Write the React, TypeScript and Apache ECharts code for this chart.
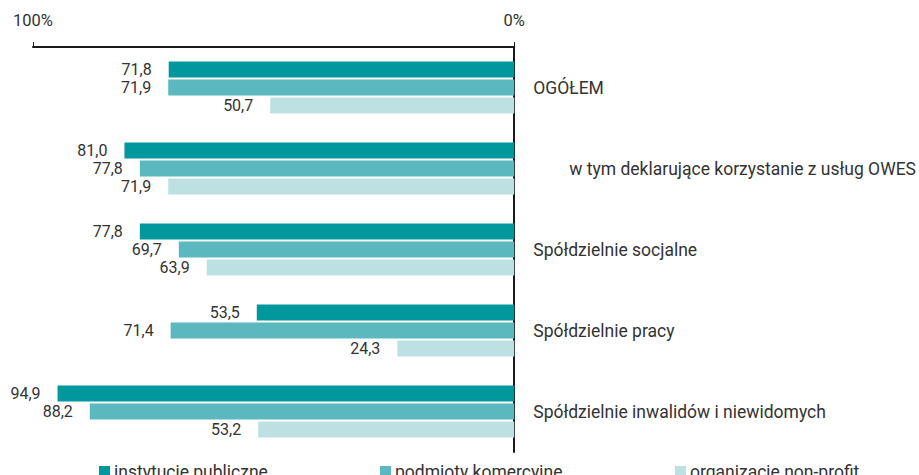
import React, { useEffect, useRef } from "react";
import * as echarts from "echarts";

const categories = [
  "OGÓŁEM",
  "w tym deklarujące korzystanie z usług OWES",
  "Spółdzielnie socjalne",
  "Spółdzielnie pracy",
  "Spółdzielnie inwalidów i niewidomych",
];
const seriesNames = ["instytucje publiczne", "podmioty komercyjne", "organizacje non-profit"];
const publiczne = [71.8, 81.0, 77.8, 53.5, 94.9];
const komercyjne = [71.9, 77.8, 69.7, 71.4, 88.2];
const nonprofit = [50.7, 71.9, 63.9, 24.3, 53.2];
const colors = ["#00979d", "#5bb8bf", "#bde1e3"];

const FONT = "Roboto";

export default function App() {
  const ref = useRef<HTMLDivElement>(null);
  useEffect(() => {
    if (!ref.current) return;
    const chart = echarts.init(ref.current, null, { renderer: "svg" });
    const values = [publiczne, komercyjne, nonprofit];
    const legendLefts = [99, 380, 675];
    chart.setOption({
      animation: false,
      textStyle: { fontFamily: FONT },
      grid: { left: 33, right: 403, top: 47, bottom: 23, containLabel: false },
      xAxis: {
        type: "value",
        min: 0,
        max: 100,
        interval: 100,
        inverse: true,
        position: "top",
        axisLine: { show: true, lineStyle: { color: "#1a1a1a", width: 2 } },
        axisTick: { show: true, length: 5, lineStyle: { color: "#1a1a1a", width: 1 } },
        axisLabel: {
          formatter: (v: number) => v + "%",
          fontSize: 16.5,
          color: "#333",
          margin: 18,
          fontFamily: FONT,
        },
        splitLine: { show: false },
      },
      yAxis: {
        type: "category",
        data: categories,
        inverse: true,
        position: "right",
        axisLine: { show: true, onZero: true, lineStyle: { color: "#1a1a1a", width: 2 } },
        axisTick: { show: false },
        axisLabel: {
          align: "left",
          margin: 19,
          fontSize: 17.5,
          color: "#333",
          fontFamily: FONT,
          formatter: (v: string, i: number) => (i === 1 ? "{ind|" + v + "}" : v),
          rich: {
            ind: { padding: [0, 0, 0, 36], fontSize: 17.5, color: "#333", fontFamily: FONT },
          },
        },
      },
      legend: seriesNames.map((n, i) => ({
        data: [n],
        left: legendLefts[i],
        top: 463,
        padding: 0,
        itemWidth: 11,
        itemHeight: 12,
        itemGap: 0,
        icon: "rect",
        textStyle: { fontSize: 17.5, color: "#333", fontFamily: FONT, padding: [0, 0, 0, -1] },
      })),
      series: seriesNames.map((n, i) => ({
        name: n,
        type: "bar",
        data: values[i],
        barWidth: 16,
        barGap: "12%",
        itemStyle: { color: colors[i] },
        label: {
          show: true,
          position: "left",
          distance: 17,
          fontSize: 16,
          lineHeight: 16,
          color: "#333",
          fontFamily: FONT,
          formatter: (p: any) => Number(p.value).toFixed(1).replace(".", ","),
        },
      })),
    });
    return () => chart.dispose();
  }, []);
  return (
    <div
      ref={ref}
      style={{ position: "fixed", left: 0, top: 0, width: 919, height: 475, background: "#fff" }}
    />
  );
}
